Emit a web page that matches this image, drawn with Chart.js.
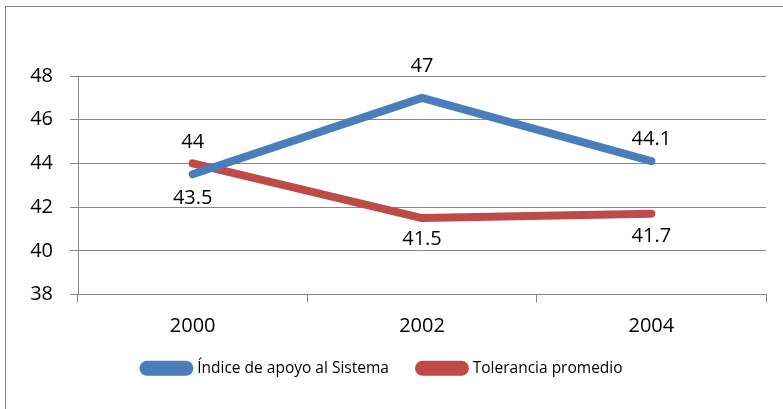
<!DOCTYPE html>
<html>
<head>
<meta charset="utf-8">
<script src="https://cdn.jsdelivr.net/npm/chart.js@4"></script>
<style>
  html, body { margin: 0; padding: 0; background: #fff; }
  #wrap { position: relative; width: 783px; height: 409px; }
  #frame { position: absolute; left: 5px; top: 6px; width: 800px; height: 420px;
           border-left: 1px solid #878787; border-top: 1px solid #878787; pointer-events: none; }
</style>
</head>
<body>
<div id="wrap">
  <canvas id="chart" width="783" height="409"></canvas>
  <div id="frame"></div>
</div>
<script>
// data
const years = ['2000', '2002', '2004'];
const apoyo = [43.5, 47, 44.1];
const tolerancia = [44, 41.5, 41.7];
const yTicks = [38, 40, 42, 44, 46, 48];

// where each value label sits relative to its point (px)
const apoyoLabelOffset = [24, -32, -22];
const toleranciaLabelOffset = [-21, 21, 23];

const blue = '#4A7EBB';
const red = '#BE4B48';
const gridColor = '#878787';
const fontFamily = "'Open Sans', 'Liberation Sans', sans-serif";

// draws the numbers next to the points
const valueLabels = {
    id: 'valueLabels',
    afterDatasetsDraw(chart) {
        const ctx = chart.ctx;
        ctx.save();
        ctx.font = '20px ' + fontFamily;
        ctx.fillStyle = '#000';
        ctx.textAlign = 'center';
        ctx.textBaseline = 'middle';
        chart.data.datasets.forEach((ds, i) => {
            const meta = chart.getDatasetMeta(i);
            meta.data.forEach((pt, j) => {
                ctx.fillText(String(ds.data[j]), pt.x, pt.y + ds.labelOffset[j]);
            });
        });
        ctx.restore();
    }
};

new Chart(document.getElementById('chart'), {
    type: 'line',
    data: {
        labels: years,
        datasets: [{
            label: 'Índice de apoyo al Sistema',
            data: apoyo,
            labelOffset: apoyoLabelOffset,
            borderColor: blue,
            backgroundColor: blue,
            borderWidth: 8,
            borderCapStyle: 'round',
            borderJoinStyle: 'round',
            pointRadius: 0,
            tension: 0
        }, {
            label: 'Tolerancia promedio',
            data: tolerancia,
            labelOffset: toleranciaLabelOffset,
            borderColor: red,
            backgroundColor: red,
            borderWidth: 8,
            borderCapStyle: 'round',
            borderJoinStyle: 'round',
            pointRadius: 0,
            tension: 0
        }]
    },
    options: {
        responsive: false,
        animation: false,
        layout: { padding: { top: 76, right: 17, left: 0, bottom: 23 } },
        plugins: {
            tooltip: { enabled: false },
            legend: {
                position: 'bottom',
                labels: {
                    boxWidth: 46,
                    boxHeight: 7,
                    useBorderRadius: true,
                    borderRadius: 3.5,
                    color: '#000',
                    padding: 14,
                    font: { family: fontFamily, size: 15.5 },
                    generateLabels(chart) {
                        // pad the first entry so the two items sit further apart
                        const items = Chart.defaults.plugins.legend.labels.generateLabels(chart);
                        items[0].text += '\u00a0\u00a0\u00a0\u00a0';
                        return items;
                    }
                }
            }
        },
        scales: {
            x: {
                offset: true,
                grid: { offset: true, drawOnChartArea: false, tickLength: 8, color: gridColor },
                border: { color: gridColor },
                ticks: { color: '#000', padding: 12, font: { family: fontFamily, size: 20 } },
                afterFit(scale) { scale.height = 52; }
            },
            y: {
                min: 38,
                max: 48,
                afterBuildTicks(scale) { scale.ticks = yTicks.map(v => ({ value: v })); },
                grid: { color: gridColor, tickLength: 8 },
                border: { color: gridColor },
                ticks: { color: '#000', padding: 17, font: { family: fontFamily, size: 20 } },
                afterFit(scale) { scale.width = 78; }
            }
        }
    },
    plugins: [valueLabels]
});
</script>
</body>
</html>
